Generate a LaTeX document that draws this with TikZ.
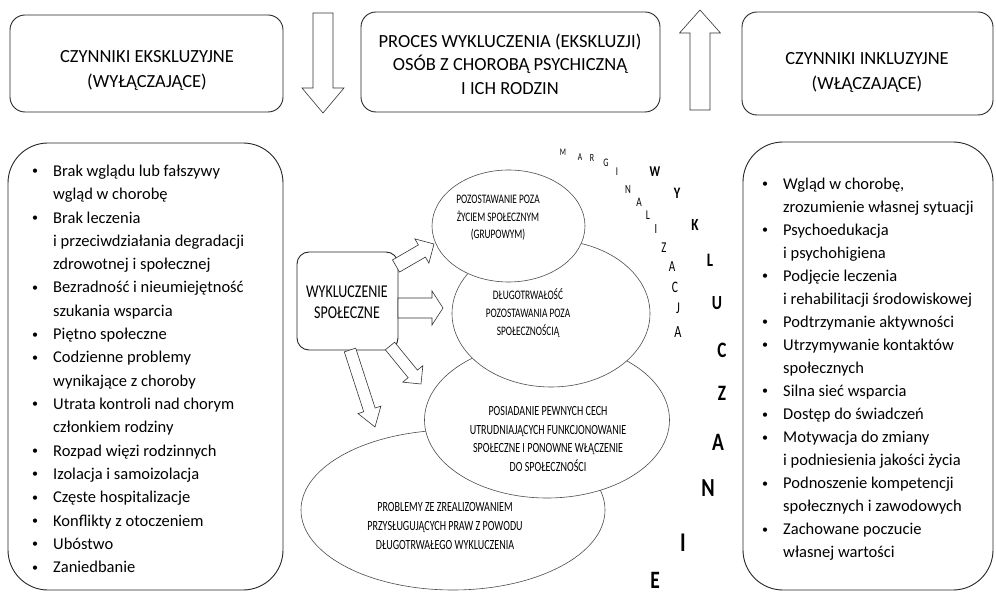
\documentclass[tikz,border=0pt]{standalone}
\usepackage{fontspec}
\setmainfont{Carlito}
\newfontfamily\narrowfont[FakeStretch=0.72]{Carlito}
\newfontfamily\tallfont[FakeStretch=0.78]{Carlito}
\usetikzlibrary{calc,shapes.geometric}

% hollow block arrow: #1 start, #2 tip, #3 half shaft width, #4 half head width, #5 head length
\newcommand\blockarrow[5]{%
  \coordinate (ba-neck) at ($(#2)!#5!(#1)$);
  \draw[blockarr] ($(#1)!#3!90:(#2)$) -- ($(ba-neck)!#3!-90:(#1)$)
    -- ($(ba-neck)!#4!-90:(#1)$) -- (#2) -- ($(ba-neck)!#4!90:(#1)$)
    -- ($(ba-neck)!#3!90:(#1)$) -- ($(#1)!#3!-90:(#2)$) -- cycle;}

\begin{document}
\begin{tikzpicture}[x=1pt,y=-1pt,
  boxline/.style={draw=black!85, line width=0.9pt},
  topbox/.style={boxline, rounded corners=15pt, inner sep=0pt},
  toptext/.style={align=center, inner sep=0pt, font=\fontsize{18.5}{25}\selectfont},
  listbox/.style={boxline, rounded corners=40pt, inner sep=0pt},
  litem/.style={anchor=base west, inner sep=0pt, font=\fontsize{16.5}{22}\selectfont},
  lbullet/.style={anchor=base, inner sep=0pt, font=\fontsize{12}{12}\selectfont},
  oval/.style={ellipse, draw=black!70, line width=0.6pt, fill=white, inner sep=0pt},
  ovaltext/.style={align=center, inner sep=0pt},
  blockarr/.style={draw=black!80, line width=0.6pt, fill=white, line join=miter},
  smallch/.style={inner sep=0pt},
  bigch/.style={inner sep=0pt},
]
\useasboundingbox (0,0) rectangle (996,593);

% --- headline boxes ---
\node[topbox, minimum width=273pt, minimum height=97pt] (excl) at (146.5,63.5) {};
\node[toptext] (exclT) at (147,70) {CZYNNIKI EKSKLUZYJNE\\(WYŁĄCZAJĄCE)};
\node[topbox, minimum width=299pt, minimum height=100pt] (proc) at (510.5,62) {};
\node[toptext, font=\fontsize{18.5}{23.5}\selectfont] (procT) at (510,64)
  {PROCES WYKLUCZENIA (EKSKLUZJI)\\OSÓB Z CHOROBĄ PSYCHICZNĄ\\I ICH RODZIN};
\node[topbox, minimum width=251pt, minimum height=103pt] (incl) at (867.5,63.5) {};
\node[toptext] (inclT) at (867,72) {CZYNNIKI INKLUZYJNE\\(WŁĄCZAJĄCE)};

% vertical arrows between the headline boxes
\coordinate (dnA) at (323,13);
\coordinate (dnB) at (323,113);
\blockarrow{dnA}{dnB}{10pt}{21pt}{25pt}
\coordinate (upA) at (700,110);
\coordinate (upB) at (700,10);
\blockarrow{upA}{upB}{10pt}{20.5pt}{23pt}

% --- list boxes ---
\node[listbox, minimum width=275pt, minimum height=447pt] (lbox) at (145.5,366.5) {};
\node[listbox, minimum width=250pt, minimum height=448pt] (rbox) at (868,366) {};

\foreach \t/\b [count=\i] in {
  Brak wglądu lub fałszywy/1, wgląd w chorobę/0,
  Brak leczenia/1, i przeciwdziałania degradacji/0, zdrowotnej i społecznej/0,
  Bezradność i nieumiejętność/1, szukania wsparcia/0,
  Piętno społeczne/1,
  Codzienne problemy/1, wynikające z choroby/0,
  Utrata kontroli nad chorym/1, członkiem rodziny/0,
  Rozpad więzi rodzinnych/1,
  Izolacja i samoizolacja/1,
  Częste hospitalizacje/1,
  Konflikty z otoczeniem/1,
  Ubóstwo/1,
  Zaniedbanie/1}{
  \node[litem] (lt\i) at (53,{176.5+23.3*(\i-1)}) {\t};
  \ifnum\b=1 \node[lbullet] (lb\i) at (35,{175+23.3*(\i-1)}) {•};\fi
}

\foreach \t/\b [count=\i] in {
  Wgląd w chorobę{,}/1, zrozumienie własnej sytuacji/0,
  Psychoedukacja/1, i psychohigiena/0,
  Podjęcie leczenia/1, i rehabilitacji środowiskowej/0,
  Podtrzymanie aktywności/1,
  Utrzymywanie kontaktów/1, społecznych/0,
  Silna sieć wsparcia/1,
  Dostęp do świadczeń/1,
  Motywacja do zmiany/1, i podniesienia jakości życia/0,
  Podnoszenie kompetencji/1, społecznych i zawodowych/0,
  Zachowane poczucie/1, własnej wartości/0}{
  \node[litem] (rt\i) at (783,{189.5+23*(\i-1)}) {\t};
  \ifnum\b=1 \node[lbullet] (rb\i) at (765,{188+23*(\i-1)}) {•};\fi
}

% --- stacked ovals (lowest first) ---
\node[oval, minimum width=304pt, minimum height=160pt] (ov4) at (453,510) {};
\node[oval, minimum width=245pt, minimum height=156pt] (ov3) at (547,420) {};
\node[oval, minimum width=198pt, minimum height=147pt] (ov2) at (551,313.5) {};
\node[oval, minimum width=153pt, minimum height=112pt] (ov1) at (508.5,226) {};

\node[ovaltext, font=\narrowfont\fontsize{13}{17.5}\selectfont] (ov1T) at (498,218)
  {POZOSTAWANIE POZA\\ŻYCIEM SPOŁECZNYM\\(GRUPOWYM)};
\node[ovaltext, font=\narrowfont\fontsize{13}{18}\selectfont] (ov2T) at (528,313)
  {DŁUGOTRWAŁOŚĆ\\POZOSTAWANIA POZA\\SPOŁECZNOŚCIĄ};
\node[ovaltext, font=\narrowfont\fontsize{14}{18.5}\selectfont] (ov3T) at (548,439)
  {POSIADANIE PEWNYCH CECH\\UTRUDNIAJĄCYCH FUNKCJONOWANIE\\SPOŁECZNE I PONOWNE WŁĄCZENIE\\DO SPOŁECZNOŚCI};
\node[ovaltext, font=\narrowfont\fontsize{14}{19}\selectfont] (ov4T) at (445,526)
  {PROBLEMY ZE ZREALIZOWANIEM\\PRZYSŁUGUJĄCYCH PRAW Z POWODU\\DŁUGOTRWAŁEGO WYKLUCZENIA};

% --- social exclusion box and its arrows ---
\node[boxline, rounded corners=12pt, minimum width=101pt, minimum height=98pt, inner sep=0pt] (wyk) at (347.5,301) {};
\node[ovaltext, font=\tallfont\fontsize{18}{21}\selectfont] (wykT) at (347,302) {WYKLUCZENIE\\SPOŁECZNE};

\coordinate (s1) at (396,266);  \coordinate (e1) at (434,244);
\coordinate (s2) at (398,308);  \coordinate (e2) at (443,308);
\coordinate (s3) at (390,346);  \coordinate (e3) at (421,384);
\coordinate (s4) at (350,350);  \coordinate (e4) at (375,427);
\blockarrow{s1}{e1}{7pt}{14pt}{14pt}
\blockarrow{s2}{e2}{10pt}{17pt}{11pt}
\blockarrow{s3}{e3}{6pt}{13pt}{13pt}
\blockarrow{s4}{e4}{6pt}{12pt}{18pt}

% --- MARGINALIZACJA, small letters on an arc ---
\foreach \c/\x/\y/\s [count=\i] in {
  M/563/152/10, A/580/157/10.5, R/592/158/11, G/606/163/11.5, I/617/172/12,
  N/628/189/12.5, A/639/202/13, L/648/215/13.5, I/656/229/14, Z/664/248/15,
  A/672/267/15.5, C/675/287/16, J/678/308/16.5, A/678/332/17}{
  \node[smallch, font=\narrowfont\fontsize{\s}{\s}\selectfont] (mg\i) at (\x,\y) {\c};
}

% --- WYKLUCZANIE, growing bold letters on a wider arc ---
\foreach \c/\x/\y/\s [count=\i] in {
  W/655/172/15, Y/677/193/16, K/695/225/17, L/710/260/19, U/717/303/20,
  C/722/350/22, Z/722/393/22, A/718/442/25, N/708/488/26, I/683/543/27, E/655/580/25}{
  \node[bigch, font=\tallfont\bfseries\fontsize{\s}{\s}\selectfont] (wy\i) at (\x,\y) {\c};
}
\end{tikzpicture}
\end{document}
